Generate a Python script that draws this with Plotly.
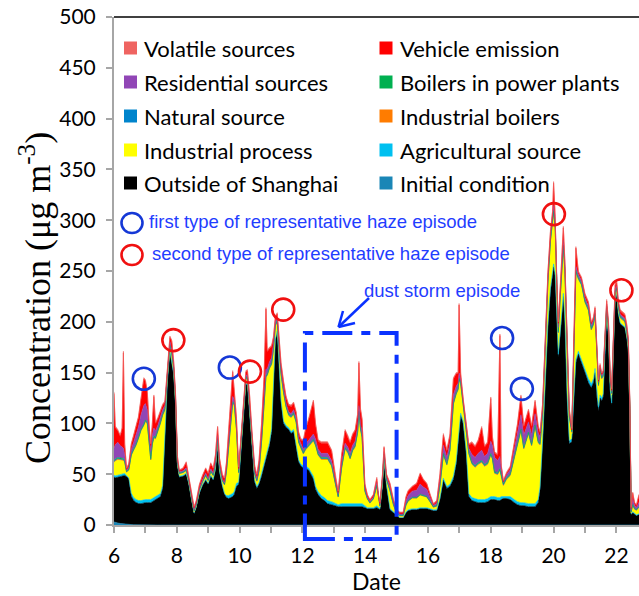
import plotly.graph_objects as go

# ---------------------------------------------------------------------------
# Source-apportioned PM2.5 concentration (ug m-3), sampled along the days
# ---------------------------------------------------------------------------
time_day = [
    6.00, 6.04, 6.12, 6.20, 6.26, 6.30, 6.34, 6.40, 6.47, 6.55, 6.62, 6.70, 6.78, 6.86, 6.95,
    7.00, 7.06, 7.12, 7.17, 7.22, 7.27, 7.32, 7.40, 7.48, 7.55, 7.62, 7.70, 7.78, 7.84, 7.90, 7.96,
    8.02, 8.08, 8.20, 8.30, 8.38, 8.47, 8.55, 8.62, 8.72, 8.82, 8.92,
    9.00, 9.08, 9.16, 9.23, 9.30, 9.36, 9.45, 9.52, 9.58, 9.65, 9.72, 9.78, 9.83, 9.90, 9.97,
    10.05, 10.13, 10.20, 10.25, 10.32, 10.40, 10.48, 10.55, 10.62, 10.70, 10.78, 10.84, 10.88, 10.95,
    11.02, 11.08, 11.14, 11.20, 11.26, 11.32, 11.40, 11.48, 11.56, 11.64, 11.72, 11.80, 11.88, 11.95,
    12.03, 12.10, 12.20, 12.35, 12.42, 12.50, 12.60, 12.70, 12.80, 12.93,
    13.04, 13.14, 13.25, 13.36, 13.45, 13.52, 13.60, 13.68, 13.76, 13.80, 13.85, 13.90, 13.99,
    14.07, 14.15, 14.26, 14.37, 14.42, 14.47, 14.55, 14.60, 14.68, 14.79, 14.90,
    15.00, 15.10, 15.21, 15.30, 15.37, 15.50, 15.64, 15.75, 15.85, 15.96,
    16.07, 16.17, 16.28, 16.38, 16.49, 16.55, 16.60, 16.70, 16.81, 16.90, 16.96, 16.99,
    17.04, 17.12, 17.22, 17.30, 17.40, 17.50, 17.60, 17.71, 17.80, 17.90,
    18.00, 18.05, 18.12, 18.22, 18.29, 18.33, 18.40, 18.50, 18.62, 18.75, 18.85, 18.96,
    19.05, 19.20, 19.30, 19.41, 19.51, 19.57, 19.65, 19.73, 19.82, 19.90, 19.97,
    20.00, 20.05, 20.10, 20.15, 20.22, 20.31, 20.36, 20.43, 20.50, 20.58, 20.64, 20.71, 20.79, 20.89,
    21.00, 21.11, 21.20, 21.27, 21.32, 21.38, 21.43, 21.48, 21.53, 21.58, 21.64, 21.69, 21.75, 21.80, 21.85, 21.91, 21.96,
    22.01, 22.06, 22.12, 22.20, 22.27, 22.33, 22.38, 22.43, 22.47, 22.52, 22.58, 22.64, 22.72,
]

initial_condition = [
    3, 2.5, 2, 1.5, 1.2, 1, 0.8, 0.6, 0.5, 0.4, 0.3, 0.2, 0.1, 0, 0,
    0, 0, 0, 0, 0, 0, 0, 0, 0, 0, 0, 0, 0, 0, 0, 0,
    0, 0, 0, 0, 0, 0, 0, 0, 0, 0, 0,
    0, 0, 0, 0, 0, 0, 0, 0, 0, 0, 0, 0, 0, 0, 0,
    0, 0, 0, 0, 0, 0, 0, 0, 0, 0, 0, 0, 0, 0,
    0, 0, 0, 0, 0, 0, 0, 0, 0, 0, 0, 0, 0, 0,
    0, 0, 0, 0, 0, 0, 0, 0, 0, 0,
    0, 0, 0, 0, 0, 0, 0, 0, 0, 0, 0, 0, 0,
    0, 0, 0, 0, 0, 0, 0, 0, 0, 0, 0,
    0, 0, 0, 0, 0, 0, 0, 0, 0, 0,
    0, 0, 0, 0, 0, 0, 0, 0, 0, 0, 0, 0,
    0, 0, 0, 0, 0, 0, 0, 0, 0, 0,
    0, 0, 0, 0, 0, 0, 0, 0, 0, 0, 0, 0,
    0, 0, 0, 0, 0, 0, 0, 0, 0, 0, 0,
    0, 0, 0, 0, 0, 0, 0, 0, 0, 0, 0, 0, 0, 0,
    0, 0, 0, 0, 0, 0, 0, 0, 0, 0, 0, 0, 0, 0, 0, 0, 0,
    0, 0, 0, 0, 0, 0, 0, 0, 0, 0, 0, 0, 0,
]

outside_shanghai = [
    44, 44, 45, 46, 47, 47, 48, 47, 45, 28, 24, 22, 21, 21, 22,
    22, 22, 22, 22, 23, 24, 25, 26, 28, 36, 80, 140, 170, 160, 148, 118,
    58, 47, 48, 50, 40, 24, 11, 17, 31, 39, 44,
    40, 48, 44, 54, 78, 52, 38, 30, 27, 26, 27, 28, 30, 38, 40,
    72, 110, 138, 138, 108, 70, 42, 36, 40, 48, 58, 64, 68, 78,
    92, 138, 182, 190, 150, 120, 100, 96, 94, 90, 92, 78, 62, 58,
    56, 56, 54, 45, 35, 30, 26, 24, 21, 20,
    19, 18, 18, 18, 18, 18, 18, 18, 18, 18, 18, 18, 17,
    16, 16, 16, 17, 16, 15, 38, 62, 38, 15, 12,
    9, 7, 7, 12, 14, 15, 15, 16, 16, 16,
    15, 14, 14, 25, 44, 40, 36, 38, 45, 60, 80, 95,
    108, 100, 70, 28, 24, 23, 22, 22, 22, 23,
    25, 25, 25, 24, 24, 25, 26, 26, 25, 22, 20, 19,
    19, 18, 18, 18, 22, 35, 80, 140, 195, 230, 250,
    254, 245, 195, 165, 190, 225, 200, 125, 80, 82, 120, 160, 168, 160,
    150, 140, 135, 140, 150, 125, 112, 125, 122, 126, 170, 205, 184, 132, 118, 170, 222,
    226, 208, 198, 196, 194, 184, 172, 108, 10, 12, 10, 9, 10,
]

agricultural = [
    2, 2, 2, 2, 2, 2, 2, 1, 1, 3, 3, 3, 3, 3, 3,
    3, 3, 3, 3, 3, 3, 3, 3, 3, 3, 2, 1, 1, 1, 1, 1,
    1, 1, 1, 1, 1, 1, 1, 1, 1, 1, 1,
    1, 1, 1, 1, 1, 1, 1, 1, 2, 3, 3, 3, 3, 3, 2,
    2, 1, 1, 1, 1, 1, 2, 2, 2, 3, 3, 3, 3, 3,
    3, 2, 1, 1, 1, 2, 2, 2, 2, 2, 2, 2, 2, 2,
    2, 2, 2, 3, 3, 3, 3, 3, 3, 3,
    2, 2, 3, 3, 3, 3, 3, 3, 3, 3, 3, 3, 2,
    1, 1, 1, 2, 1, 1, 1, 1, 1, 1, 1,
    1, 0.5, 0.5, 1, 1, 1, 1, 1, 1, 1,
    1, 1, 1, 1, 2, 2, 2, 2, 3, 3, 2, 2,
    2, 2, 2, 3, 3, 3, 3, 3, 3, 3,
    3, 3, 3, 3, 3, 3, 2, 2, 3, 3, 3, 3,
    3, 3, 3, 3, 3, 3, 3, 3, 3, 3, 3,
    3, 3, 3, 3, 3, 3, 3, 3, 3, 3, 3, 3, 3, 3,
    3, 4, 4, 4, 4, 4, 4, 3, 3, 3, 2, 2, 2, 2, 2, 2, 2,
    1, 1, 1, 1, 1, 1, 1, 1, 1, 1, 1, 1, 1,
]

industrial_process = [
    12, 14, 15, 14, 13, 13, 10, 3, 7, 36, 45, 52, 60, 68, 72,
    76, 74, 50, 38, 52, 58, 56, 62, 68, 68, 30, 6, 5, 6, 4, 3,
    2, 2, 2, 2, 2, 1, 1, 1, 2, 2, 3,
    2, 3, 3, 4, 5, 4, 4, 8, 22, 48, 74, 88, 84, 52, 8,
    7, 6, 4, 4, 6, 6, 5, 4, 10, 30, 62, 78, 75, 72,
    62, 32, 12, 8, 20, 25, 27, 17, 11, 13, 14, 20, 16, 14,
    11, 15, 21, 34, 39, 35, 35, 37, 40, 34,
    18, 7, 34, 53, 49, 43, 51, 55, 69, 89, 72, 64, 13,
    8, 4, 8, 18, 8, 2, 5, 6, 5, 17, 6,
    1, 1, 1, 6, 8, 10, 10, 12, 11, 10,
    6, 2, 3, 12, 22, 20, 20, 32, 70, 65, 50, 45,
    28, 15, 20, 38, 32, 30, 34, 36, 32, 33,
    40, 36, 22, 22, 26, 20, 10, 16, 20, 40, 55, 70,
    52, 68, 56, 75, 55, 40, 25, 25, 40, 45, 45,
    50, 44, 30, 20, 34, 45, 45, 40, 22, 5, 38, 85, 70, 72,
    65, 66, 52, 52, 52, 38, 20, 24, 18, 16, 10, 6, 6, 8, 8, 10, 4,
    4, 5, 4, 4, 4, 4, 3, 3, 1, 6, 4, 4, 6,
]

industrial_boilers = [
    1, 1, 1, 1, 1, 1, 1, 0.5, 0.5, 1, 1, 1, 1, 1, 1,
    1, 1, 1, 1, 1, 1, 1, 1, 1, 1, 1, 1, 1, 1, 1, 1,
    0.5, 0.5, 0.5, 0.5, 0.5, 0.5, 0.5, 0.5, 0.5, 0.5, 0.5,
    0.5, 0.5, 0.5, 0.5, 0.5, 0.5, 0.5, 0.5, 1, 1, 1, 1, 1, 1, 1,
    1, 1, 1, 1, 1, 1, 1, 1, 1, 1, 1, 1, 1, 1,
    1, 1, 1, 1, 1, 1, 1, 1, 1, 1, 1, 1, 1, 1,
    1, 1, 1, 1, 1, 1, 1, 1, 1, 1,
    1, 0.5, 1, 1, 1, 1, 1, 1, 1, 1, 1, 1, 1,
    0.5, 0.5, 0.5, 1, 0.5, 0.5, 0.5, 0.5, 0.5, 0.5, 0.5,
    0.5, 0.5, 0.5, 0.5, 0.5, 0.5, 0.5, 0.5, 0.5, 0.5,
    0.5, 0.5, 0.5, 0.5, 1, 1, 1, 1, 1, 1, 1, 1,
    1, 1, 1, 1, 1, 1, 1, 1, 1, 1,
    1, 1, 1, 1, 1, 1, 1, 1, 1, 1, 1, 1,
    1, 1, 1, 1, 1, 1, 1, 1, 1, 1, 1,
    1, 1, 1, 1, 1, 1, 1, 1, 1, 1, 1, 1, 1, 1,
    1, 1, 1, 1, 1, 1, 1, 1, 1, 1, 1, 1, 1, 1, 1, 1, 1,
    1, 1, 1, 1, 1, 1, 1, 1, 0.5, 0.5, 0.5, 0.5, 0.5,
]

natural_source = [
    0.5, 0.5, 0.5, 0.5, 0.5, 0.5, 0.5, 0.3, 0.3, 0.5, 0.5, 0.5, 0.5, 0.5, 0.5,
    0.5, 0.5, 0.5, 0.5, 0.5, 0.5, 0.5, 0.5, 0.5, 0.5, 0.5, 0.5, 0.5, 0.5, 0.5, 0.5,
    0.3, 0.3, 0.3, 0.3, 0.3, 0.3, 0.3, 0.3, 0.3, 0.3, 0.3,
    0.3, 0.3, 0.3, 0.3, 0.3, 0.3, 0.3, 0.3, 0.5, 0.5, 0.5, 0.5, 0.5, 0.5, 0.5,
    0.5, 0.5, 0.5, 0.5, 0.5, 0.5, 0.5, 0.5, 0.5, 0.5, 0.5, 0.5, 0.5, 0.5,
    0.5, 0.5, 0.5, 0.5, 0.5, 0.5, 0.5, 0.5, 0.5, 0.5, 0.5, 0.5, 0.5, 0.5,
    0.5, 0.5, 0.5, 0.5, 0.5, 0.5, 0.5, 0.5, 0.5, 0.5,
    0.5, 0.3, 0.5, 0.5, 0.5, 0.5, 0.5, 0.5, 0.5, 0.5, 0.5, 0.5, 0.5,
    0.3, 0.3, 0.3, 0.5, 0.3, 0.3, 0.3, 0.3, 0.3, 0.3, 0.3,
    0.3, 0.3, 0.3, 0.3, 0.3, 0.3, 0.3, 0.3, 0.3, 0.3,
    0.3, 0.3, 0.3, 0.3, 0.5, 0.5, 0.5, 0.5, 0.5, 0.5, 0.5, 0.5,
    0.5, 0.5, 0.5, 0.5, 0.5, 0.5, 0.5, 0.5, 0.5, 0.5,
    0.5, 0.5, 0.5, 0.5, 0.5, 0.5, 0.5, 0.5, 0.5, 0.5, 0.5, 0.5,
    0.5, 0.5, 0.5, 0.5, 0.5, 0.5, 0.5, 0.5, 0.5, 0.5, 0.5,
    0.5, 0.5, 0.5, 0.5, 0.5, 0.5, 0.5, 0.5, 0.5, 0.5, 0.5, 0.5, 0.5, 0.5,
    0.5, 0.5, 0.5, 0.5, 0.5, 0.5, 0.5, 0.5, 0.5, 0.5, 0.5, 0.5, 0.5, 0.5, 0.5, 0.5, 0.5,
    0.5, 0.5, 0.5, 0.5, 0.5, 0.5, 0.5, 0.5, 0.3, 0.3, 0.3, 0.3, 0.3,
]

power_plant_boilers = [
    1, 1, 1, 1, 1, 1, 1, 0.5, 0.5, 1, 1, 1, 1, 1, 1,
    1, 1, 1, 1, 1, 1, 1, 1, 1, 1, 1, 1, 1, 1, 1, 1,
    0.5, 0.5, 0.5, 0.5, 0.5, 0.5, 0.5, 0.5, 0.5, 0.5, 0.5,
    0.5, 0.5, 0.5, 0.5, 0.5, 0.5, 0.5, 0.5, 1, 1, 1, 1, 1, 1, 1,
    1, 1, 1, 1, 1, 1, 1, 1, 1, 1, 1, 1, 1, 1,
    1, 1, 1, 1, 1, 1, 1, 1, 1, 1, 1, 1, 1, 1,
    1, 1, 1, 1, 1, 1, 1, 1, 1, 1,
    1, 0.5, 1, 1, 1, 1, 1, 1, 1, 1, 1, 1, 1,
    0.5, 0.5, 0.5, 1, 0.5, 0.5, 0.5, 0.5, 0.5, 0.5, 0.5,
    0.5, 0.5, 0.5, 0.5, 0.5, 0.5, 0.5, 0.5, 0.5, 0.5,
    0.5, 0.5, 0.5, 0.5, 1, 1, 1, 1, 1, 1, 1, 1,
    1, 1, 1, 1, 1, 1, 1, 1, 1, 1,
    1, 1, 1, 1, 1, 1, 1, 1, 1, 1, 1, 1,
    1, 1, 1, 1, 1, 1, 1, 1, 1, 1, 1,
    1, 1, 1, 1, 1, 1, 1, 1, 1, 1, 1, 1, 1, 1,
    1, 1, 1, 1, 1, 1, 1, 1, 1, 1, 1, 1, 1, 1, 1, 1, 1,
    1, 1, 1, 1, 1, 1, 1, 1, 0.5, 0.5, 0.5, 0.5, 0.5,
]

residential = [
    12, 14, 15, 12, 11, 10, 6, 1, 2, 5, 6, 8, 10, 14, 18,
    16, 12, 9, 7, 8, 8, 6, 5, 5, 4, 3, 2, 2, 2, 2, 2,
    1, 1, 1, 2, 1, 1, 1, 1, 1, 1, 2,
    1, 2, 2, 2, 3, 2, 1, 1, 2, 3, 4, 5, 4, 3, 2,
    2, 2, 2, 2, 2, 2, 2, 1, 3, 4, 5, 6, 5, 5,
    5, 4, 3, 3, 3, 3, 3, 2, 2, 2, 3, 3, 3, 3,
    3, 4, 4, 5, 5, 4, 4, 4, 4, 4,
    3, 2, 3, 4, 4, 4, 4, 4, 4, 5, 4, 4, 2,
    1, 1, 1, 3, 2, 1, 2, 2, 2, 3, 2,
    1, 1, 1, 4, 5, 6, 7, 10, 8, 7,
    4, 1, 2, 5, 8, 7, 6, 6, 8, 6, 5, 5,
    4, 3, 3, 4, 8, 8, 9, 10, 8, 9,
    12, 12, 14, 12, 12, 6, 2, 3, 4, 7, 10, 14,
    12, 10, 9, 11, 8, 6, 4, 4, 4, 4, 4,
    5, 5, 4, 4, 5, 5, 5, 5, 4, 1, 3, 4, 3, 3,
    3, 3, 3, 3, 3, 3, 2, 2, 2, 2, 2, 2, 2, 2, 1, 2, 2,
    2, 2, 2, 2, 2, 2, 2, 2, 1, 6, 3, 2, 4,
]

vehicle = [
    54, 17, 11, 9, 18, 94, 10, 1, 3, 4, 6, 8, 9, 15, 26,
    22, 17, 11, 6, 10, 31, 7, 6, 5, 4, 3, 3, 4, 9, 3, 2,
    4, 1, 2, 5, 2, 2, 2, 2, 3, 4, 4,
    5, 5, 4, 6, 8, 5, 4, 4, 5, 9, 11, 24, 8, 6, 1,
    2, 4, 3, 4, 7, 7, 4, 3, 6, 12, 15, 59, 17, 13,
    11, 6, 4, 3, 5, 6, 6, 6, 6, 7, 6, 5, 5, 4,
    8, 14, 20, 32, 14, 8, 10, 10, 10, 9,
    4, 2, 8, 12, 10, 10, 10, 10, 12, 42, 14, 12, 3,
    2, 1, 2, 3, 1, 1, 2, 4, 2, 3, 2,
    1, 1, 1, 3, 4, 4, 6, 10, 7, 5,
    2, 1, 2, 5, 10, 7, 6, 8, 15, 12, 9, 67,
    4, 1, 1, 3, 11, 10, 12, 22, 9, 10,
    42, 8, 4, 5, 119, 2, 0, 1, 2, 4, 8, 18,
    8, 11, 8, 12, 6, 4, 4, 4, 4, 4, 4,
    22, 4, 4, 4, 4, 12, 3, 3, 2, 0, 2, 18, 2, 2,
    3, 3, 2, 2, 2, 1, 1, 1, 1, 1, 2, 3, 2, 2, 1, 2, 4,
    3, 2, 3, 3, 3, 3, 3, 2, 2, 5, 2, 2, 7,
]

volatile = [
    1.5, 1.5, 1.5, 1.5, 1.5, 1.5, 1.5, 1, 1, 1.5, 1.5, 1.5, 1.5, 1.5, 1.5,
    1.5, 1.5, 1.5, 1.5, 1.5, 1.5, 1.5, 1.5, 1.5, 1.5, 1.5, 1.5, 1.5, 1.5, 1.5, 1.5,
    1, 1, 1, 1, 1, 1, 1, 1, 1, 1, 1,
    1, 1, 1, 1, 1, 1, 1, 1, 1.5, 1.5, 1.5, 1.5, 1.5, 1.5, 1.5,
    1.5, 1.5, 1.5, 1.5, 1.5, 1.5, 1.5, 1.5, 1.5, 1.5, 1.5, 1.5, 1.5, 1.5,
    1.5, 1.5, 1.5, 1.5, 1.5, 1.5, 1.5, 1.5, 1.5, 1.5, 1.5, 1.5, 1.5, 1.5,
    1.5, 1.5, 1.5, 1.5, 1.5, 1.5, 1.5, 1.5, 1.5, 1.5,
    1.5, 1, 1.5, 1.5, 1.5, 1.5, 1.5, 1.5, 1.5, 1.5, 1.5, 1.5, 1.5,
    1, 1, 1, 1.5, 1, 1, 1, 1, 1, 1, 1,
    1, 1, 1, 1, 1, 1, 1, 1, 1, 1,
    1, 1, 1, 1, 1.5, 1.5, 1.5, 1.5, 1.5, 1.5, 1.5, 1.5,
    1.5, 1.5, 1.5, 1.5, 1.5, 1.5, 1.5, 1.5, 1.5, 1.5,
    1.5, 1.5, 1.5, 1.5, 1.5, 1.5, 1.5, 1.5, 1.5, 1.5, 1.5, 1.5,
    1.5, 1.5, 1.5, 1.5, 1.5, 1.5, 1.5, 1.5, 1.5, 1.5, 1.5,
    1.5, 1.5, 1.5, 1.5, 1.5, 1.5, 1.5, 1.5, 1.5, 1.5, 1.5, 1.5, 1.5, 1.5,
    1.5, 1.5, 1.5, 1.5, 1.5, 1.5, 1.5, 1.5, 1.5, 1.5, 1.5, 1.5, 1.5, 1.5, 1.5, 1.5, 1.5,
    1.5, 1.5, 1.5, 1.5, 1.5, 1.5, 1.5, 1.5, 1, 1, 1, 1, 1,
]

# Representative haze episodes (day, concentration at the marked peak)
first_type_day = [6.95, 9.69, 18.36, 18.99]
first_type_val = [144, 155, 184, 134]
second_type_day = [7.89, 10.33, 11.39, 20.01, 22.16]
second_type_val = [182, 151, 212, 306, 231]

# Dust storm window (days) and its upper bound on the concentration axis
dust_storm_days = [12.08, 15.0]
dust_storm_top = 189

x_label_ticks = list(range(6, 23, 2))
y_ticks = list(range(0, 501, 50))

# Stack order, bottom to top
sources = [
    ("Initial condition", initial_condition, "#1a86b6"),
    ("Outside of Shanghai", outside_shanghai, "#000000"),
    ("Agricultural source", agricultural, "#00c0f0"),
    ("Industrial process", industrial_process, "#ffff00"),
    ("Industrial boilers", industrial_boilers, "#ff7c00"),
    ("Natural source", natural_source, "#0084cc"),
    ("Boilers in power plants", power_plant_boilers, "#00b050"),
    ("Residential sources", residential, "#9146b6"),
    ("Vehicle emission", vehicle, "#ff0000"),
    ("Volatile sources", volatile, "#ef6461"),
]
source_color = {name: col for name, _, col in sources}

# Two-column key, read row by row
legend_rows = [
    ("Volatile sources", "Vehicle emission"),
    ("Residential sources", "Boilers in power plants"),
    ("Natural source", "Industrial boilers"),
    ("Industrial process", "Agricultural source"),
    ("Outside of Shanghai", "Initial condition"),
]

# ---------------------------------------------------------------------------
W, H = 639, 596
ML, MR, MT, MB = 114, 0, 17, 71
X_MIN, X_MAX = 6.0, 22.72
Y_MIN, Y_MAX = 0, 500
PW, PH = W - ML - MR, H - MT - MB


def px_x(px):
    return (px - ML) / PW


def px_y(py):
    return (H - MB - py) / PH


def day_to_paper(d):
    return (d - X_MIN) / (X_MAX - X_MIN)


def val_to_paper(v):
    return (v - Y_MIN) / (Y_MAX - Y_MIN)


fig = go.Figure()

for name, values, color in sources:
    fig.add_trace(go.Scatter(
        x=time_day, y=values, name=name, mode="lines",
        stackgroup="pm", line=dict(width=0.6, color=color),
        fillcolor=color, showlegend=False, hoverinfo="x+y+name",
    ))

BLUE_TEXT = "#1f3dff"
BLUE_RING = "#1538d6"
RED_RING = "#f01010"

fig.add_trace(go.Scatter(
    x=first_type_day, y=first_type_val, mode="markers", showlegend=False,
    marker=dict(symbol="circle-open", size=22, color=BLUE_RING, line=dict(width=2.6)),
))
fig.add_trace(go.Scatter(
    x=second_type_day, y=second_type_val, mode="markers", showlegend=False,
    marker=dict(symbol="circle-open", size=22, color=RED_RING, line=dict(width=2.6)),
))

shapes = []
annotations = []

# frame line along the top of the plot area
shapes.append(dict(type="line", xref="paper", yref="paper", x0=0, x1=1, y0=1, y1=1,
                   line=dict(color="#000000", width=1.5)))

# legend swatches and labels
LEG_FONT = dict(family="Lato", size=22, color="#000000")
row_y = [48, 82, 116, 150, 183]
col_sq = [130.5, 386]
col_txt = [142, 398]
for r, pair in enumerate(legend_rows):
    for c, name in enumerate(pair):
        shapes.append(dict(
            type="rect", xref="paper", yref="paper", xsizemode="pixel", ysizemode="pixel",
            xanchor=px_x(col_sq[c]), yanchor=px_y(row_y[r]),
            x0=-6.5, x1=6.5, y0=-6.5, y1=6.5,
            fillcolor=source_color[name], line=dict(width=0),
        ))
        annotations.append(dict(
            xref="paper", yref="paper", x=px_x(col_txt[c]), y=px_y(row_y[r]),
            xanchor="left", yanchor="middle", text=name, showarrow=False, font=LEG_FONT,
        ))

# episode key
EP_FONT = dict(family="Liberation Sans", size=18.5, color=BLUE_TEXT)
for py, ring, label, tx in [
    (222, BLUE_RING, "first type of representative haze episode", 147),
    (254, RED_RING, "second type of representative haze episode", 150),
]:
    shapes.append(dict(
        type="circle", xref="paper", yref="paper", xsizemode="pixel", ysizemode="pixel",
        xanchor=px_x(132), yanchor=px_y(py + 1), x0=-10.5, x1=10.5, y0=-10, y1=10,
        line=dict(color=ring, width=2.6),
    ))
    annotations.append(dict(
        xref="paper", yref="paper", x=px_x(tx), y=px_y(py), xanchor="left", yanchor="middle",
        text=label, showarrow=False, font=EP_FONT,
    ))

# dust storm window
DUST_BLUE = "#0a32ff"
shapes.append(dict(
    type="rect", xref="paper", yref="paper",
    x0=day_to_paper(dust_storm_days[0]), x1=day_to_paper(dust_storm_days[1]),
    y0=px_y(539), y1=val_to_paper(dust_storm_top),
    line=dict(color=DUST_BLUE, width=4, dash="30px,9px,9px,9px"),
))
annotations.append(dict(
    xref="paper", yref="paper", x=px_x(362), y=px_y(291), xanchor="left", yanchor="middle",
    text="dust storm episode", showarrow=False, font=EP_FONT,
))
# arrow pointing at the window
tail, head = (369, 298), (338.5, 327)
barb1, barb2 = (355, 323), (343, 311)
shapes.append(dict(type="line", xref="paper", yref="paper",
                   x0=px_x(tail[0]), y0=px_y(tail[1]), x1=px_x(head[0]), y1=px_y(head[1]),
                   line=dict(color=DUST_BLUE, width=2.5)))
for b in (barb1, barb2):
    shapes.append(dict(type="line", xref="paper", yref="paper",
                       x0=px_x(head[0]), y0=px_y(head[1]), x1=px_x(b[0]), y1=px_y(b[1]),
                       line=dict(color=DUST_BLUE, width=2.5)))

# concentration axis title, centred a little below the middle of the axis
annotations.append(dict(
    xref="paper", yref="paper", x=px_x(35), y=px_y(298), xanchor="center", yanchor="middle",
    text="Concentration (\u03bcg m<sup>-3</sup>)", textangle=-90, showarrow=False,
    font=dict(family="Liberation Serif", size=36, color="#000000"),
))

AXIS_GRAY = "#a6a6a6"
TICK_FONT = dict(family="Lato", size=21, color="#000000")

fig.update_layout(
    width=W, height=H,
    margin=dict(l=ML, r=MR, t=MT, b=MB, pad=0),
    paper_bgcolor="#ffffff", plot_bgcolor="#ffffff",
    showlegend=False,
    shapes=shapes, annotations=annotations,
    xaxis=dict(
        range=[X_MIN, X_MAX], tickvals=x_label_ticks,
        ticks="outside", ticklen=6, tickwidth=1.5, tickcolor=AXIS_GRAY,
        minor=dict(dtick=1, tick0=6, ticks="outside", ticklen=6, tickwidth=1.5,
                   tickcolor=AXIS_GRAY, showgrid=False),
        showline=True, linecolor=AXIS_GRAY, linewidth=2,
        showgrid=False, zeroline=False, tickfont=TICK_FONT, ticklabelstandoff=5,
        title=dict(text="Date", font=dict(family="Lato", size=23, color="#000000"), standoff=1),
    ),
    yaxis=dict(
        range=[Y_MIN, Y_MAX], tickvals=y_ticks,
        ticks="outside", ticklen=6, tickwidth=1.5, tickcolor=AXIS_GRAY,
        showline=True, linecolor=AXIS_GRAY, linewidth=2,
        showgrid=False, zeroline=False, tickfont=TICK_FONT, ticklabelstandoff=6,
    ),
)

fig.write_html("out.html")
